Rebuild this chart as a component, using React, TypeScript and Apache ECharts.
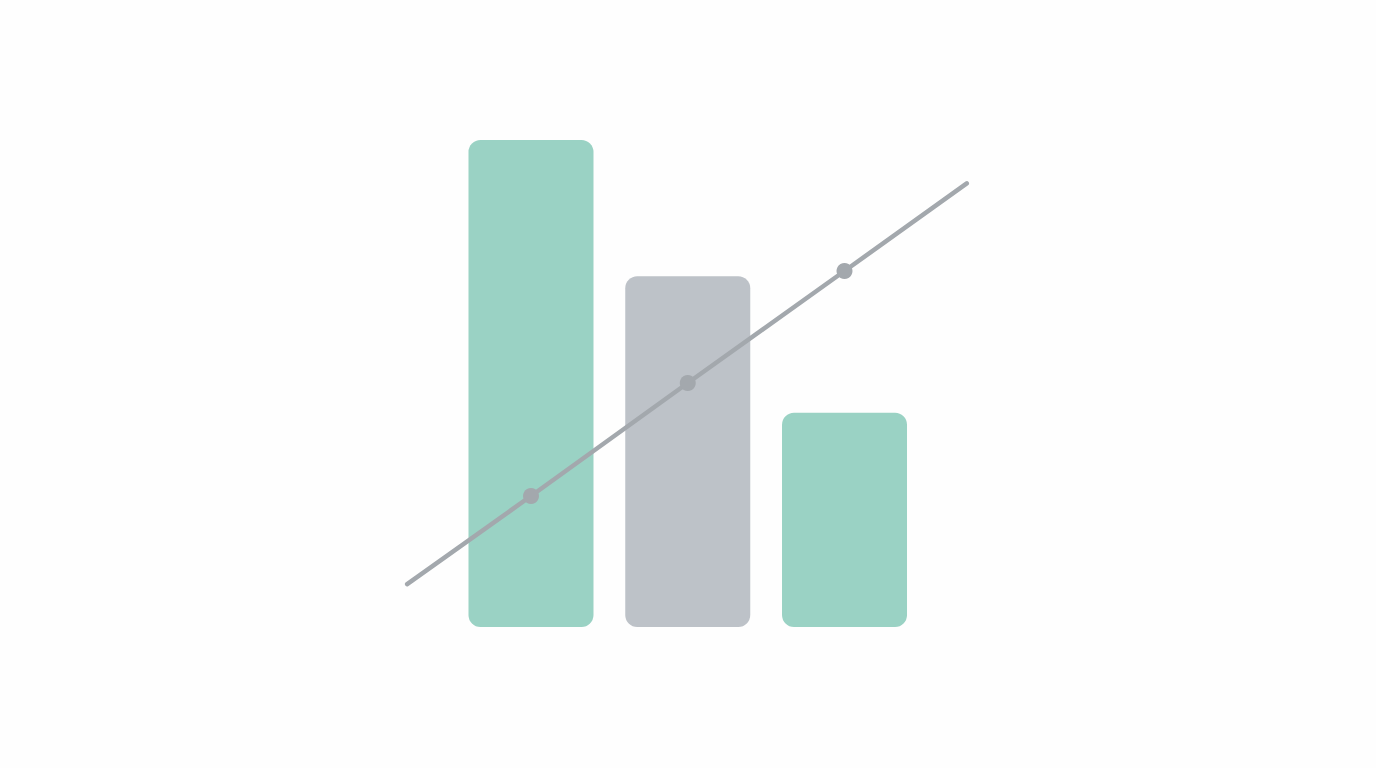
import React from 'react';
import * as echarts from 'echarts';

// bars (height in % of the tallest bar)
const categories = ['A', 'B', 'C'];
const barValues = [100, 72, 44];
const barColors = ['#9AD2C4', '#BDC2C8', '#9AD2C4'];

// trend line: x in category units (1 = first bar centre), y on the same scale as bars
const lineX = [0.21, 1, 2, 3, 3.78];
const lineY = [8.8, 26.9, 50.1, 73.1, 91.1];
const lineMarkers = [false, true, true, true, false];

const App = () => {
  const chartRef = React.useRef(null);

  React.useEffect(() => {
    const myChart = echarts.init(chartRef.current, null, { renderer: 'svg' });

    const option: any = {
      animation: false,
      backgroundColor: '#FEFEFE',
      grid: [
        { left: 452.6, right: 1376 - 922.9, top: 140, bottom: 141 },
        { left: 374.25, right: 1376 - 1001.25, top: 140, bottom: 141 },
      ],
      xAxis: [
        { type: 'category', data: categories, show: false, gridIndex: 0 },
        { type: 'value', min: 0, max: 4, show: false, gridIndex: 1 },
      ],
      yAxis: [
        { type: 'value', min: 0, max: 100, show: false, gridIndex: 0 },
        { type: 'value', min: 0, max: 100, show: false, gridIndex: 1 },
      ],
      series: [
        {
          type: 'bar',
          xAxisIndex: 0,
          yAxisIndex: 0,
          barWidth: 125,
          data: barValues.map((v, i) => ({
            value: v,
            itemStyle: { color: barColors[i], borderRadius: 12 },
          })),
        },
        {
          type: 'line',
          xAxisIndex: 1,
          yAxisIndex: 1,
          symbol: 'circle',
          data: lineX.map((x, i) => ({
            value: [x, lineY[i]],
            symbolSize: lineMarkers[i] ? 16 : 0,
          })),
          lineStyle: { color: '#A3A8AD', width: 4.5, cap: 'round' },
          itemStyle: { color: '#A3A8AD' },
          z: 3,
        },
      ],
    };

    myChart.setOption(option);

    return () => {
      myChart.dispose();
    };
  }, []);

  return (
    <div
      ref={chartRef}
      style={{ position: 'fixed', left: 0, top: 0, width: '1376px', height: '768px' }}
    />
  );
};

export default App;
